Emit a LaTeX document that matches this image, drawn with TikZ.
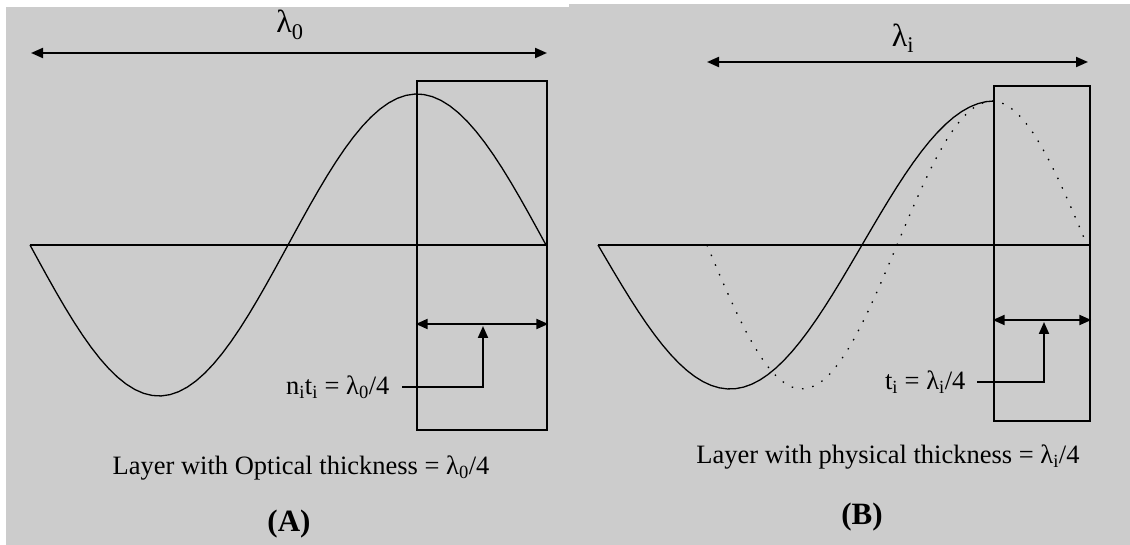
\documentclass[tikz,border=0pt]{standalone}
\usepackage{fontspec}
\setmainfont{Liberation Serif}
\usetikzlibrary{arrows.meta, positioning}
\definecolor{cpanel}{HTML}{CCCCCC}
\tikzset{
  every picture/.style={line width=1.2pt},
  panel/.style={fill=cpanel, draw=none},
  layer/.style={draw, line width=2.6pt, inner sep=0pt},
  axis/.style={line width=2pt},
  dim/.style={{Triangle[length=12pt, width=10pt]}-{Triangle[length=12pt, width=10pt]}, line width=2pt},
  ptr/.style={-{Triangle[length=12pt, width=10pt]}, line width=2pt},
  wave/.style={line width=1.3pt, line join=round},
  shifted/.style={wave, dash pattern=on 1.5pt off 9pt},
  wl/.style={font=\fontsize{32}{34}\selectfont},
  lbl/.style={font=\fontsize{26.5}{30}\selectfont, inner sep=0pt},
  tag/.style={font=\fontsize{31}{34}\selectfont\bfseries},
}

\begin{document}
\begin{tikzpicture}[x=1pt, y=-1pt]
  \useasboundingbox (0,0) rectangle (1130,545);
  \fill[white] (0,0) rectangle (1130,545);
  \fill[panel] (6,7) rectangle (569,545);
  \fill[panel] (569,4) rectangle (1130,545);

  % panel A: optical thickness
  \coordinate (lamAl) at (31,53);
  \coordinate (lamAr) at (547,53);
  \draw[dim] (lamAl) -- (lamAr);
  \node[wl] (lamA) at (290,25) {λ\textsubscript{0}};

  \node[layer, minimum width=130pt, minimum height=349pt] (boxA) at (482,255.5) {};
  \coordinate (axA0) at (30,245);
  \draw[axis] (axA0) -- (boxA.east |- axA0);
  \draw[wave] plot[domain=30:546, samples=60] (\x, {245+151*sin((\x-30)/516*360)});

  \coordinate (dA) at (482,324);
  \coordinate (tA) at (483,326);
  \draw[dim] (boxA.west |- dA) -- (boxA.east |- dA);
  \node[lbl, anchor=east] (nA) at (390,387) {n\textsubscript{i}t\textsubscript{i} = λ\textsubscript{0}/4};
  \draw[ptr, shorten <=12pt] (nA.east) -| (tA);

  \node[lbl] (capA) at (301,468) {Layer with Optical thickness = λ\textsubscript{0}/4};
  \node[tag] (tagA) at (289,524) {(A)};

  % panel B: physical thickness
  \coordinate (lamBl) at (707,62);
  \coordinate (lamBr) at (1088,62);
  \draw[dim] (lamBl) -- (lamBr);
  \node[wl] (lamB) at (903,38) {λ\textsubscript{i}};

  \node[layer, minimum width=96pt, minimum height=335pt] (boxB) at (1042,253.5) {};
  \coordinate (axB0) at (598,245);
  \draw[axis] (axB0) -- (boxB.east |- axB0);
  \draw[wave] plot[domain=598:994, samples=50] (\x, {245+144*sin((\x-598)/528*360)});
  \draw[shifted] plot[domain=707:1087, samples=50] (\x, {245+144*sin((\x-707)/380*360)});

  \coordinate (dB) at (1042,320);
  \coordinate (tB) at (1044,322);
  \draw[dim] (boxB.west |- dB) -- (boxB.east |- dB);
  \node[lbl, anchor=east] (nB) at (966,382) {t\textsubscript{i} = λ\textsubscript{i}/4};
  \draw[ptr, shorten <=11pt] (nB.east) -| (tB);

  \node[lbl] (capB) at (888,457) {Layer with physical thickness = λ\textsubscript{i}/4};
  \node[tag] (tagB) at (862,517) {(B)};
\end{tikzpicture}
\end{document}
